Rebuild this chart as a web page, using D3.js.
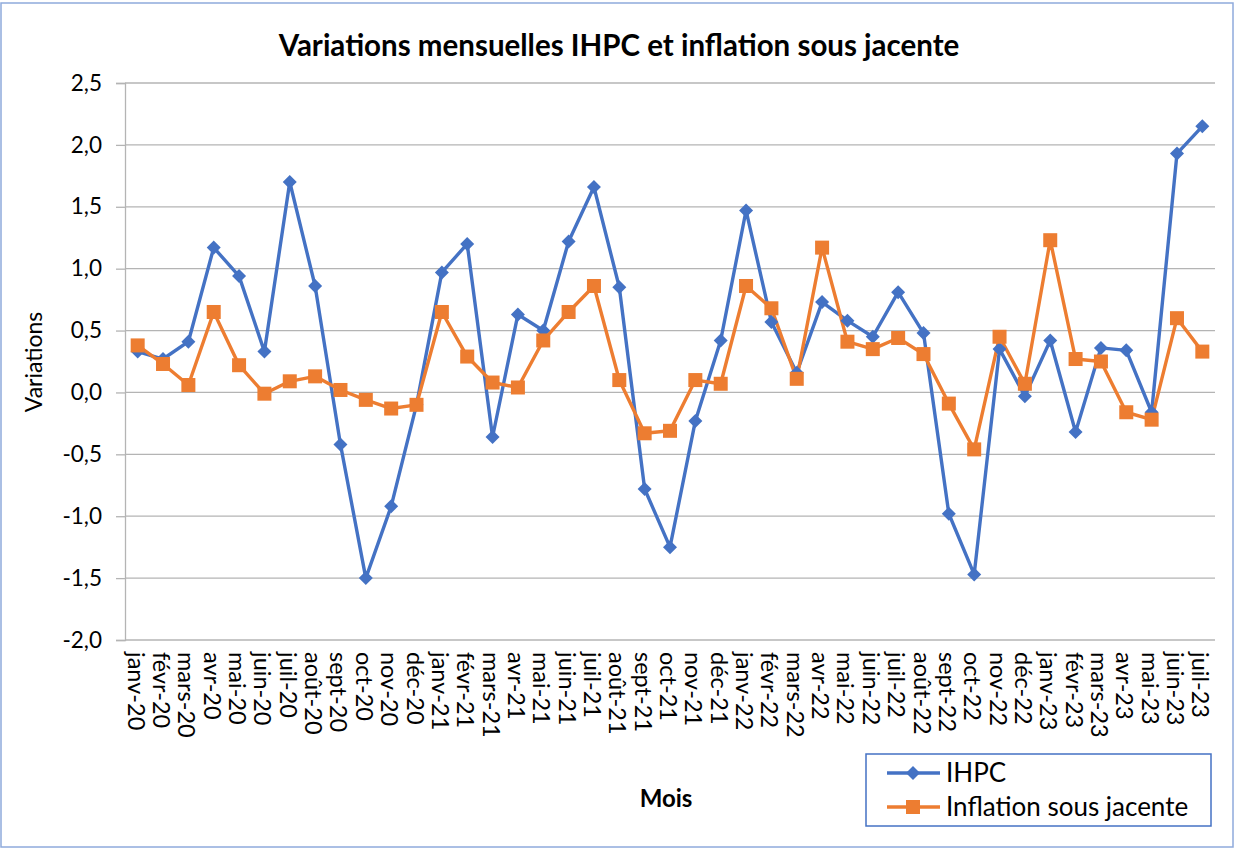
<!DOCTYPE html>
<html>
<head>
<meta charset="utf-8">
<script src="https://cdn.jsdelivr.net/npm/d3@7"></script>
<style>
  html, body { margin: 0; padding: 0; background: #fff; }
  svg { display: block; }
  text { font-family: Lato, "Open Sans", sans-serif; fill: #000; }
</style>
</head>
<body>
<svg id="chart" width="1235" height="849"></svg>
<script>
const categories = ["janv-20","févr-20","mars-20","avr-20","mai-20","juin-20","juil-20","août-20","sept-20","oct-20","nov-20","déc-20",
  "janv-21","févr-21","mars-21","avr-21","mai-21","juin-21","juil-21","août-21","sept-21","oct-21","nov-21","déc-21",
  "janv-22","févr-22","mars-22","avr-22","mai-22","juin-22","juil-22","août-22","sept-22","oct-22","nov-22","déc-22",
  "janv-23","févr-23","mars-23","avr-23","mai-23","juin-23","juil-23"];
const ihpc = [0.33,0.27,0.41,1.17,0.94,0.33,1.70,0.86,-0.42,-1.50,-0.92,-0.10,
  0.97,1.20,-0.36,0.63,0.50,1.22,1.66,0.85,-0.78,-1.25,-0.23,0.42,
  1.47,0.57,0.16,0.73,0.58,0.45,0.81,0.48,-0.98,-1.47,0.35,-0.03,
  0.42,-0.32,0.36,0.34,-0.16,1.93,2.15];
const inflationSJ = [0.38,0.23,0.06,0.65,0.22,-0.01,0.09,0.13,0.02,-0.06,-0.13,-0.10,
  0.65,0.29,0.08,0.04,0.42,0.65,0.86,0.10,-0.33,-0.31,0.10,0.07,
  0.86,0.68,0.11,1.17,0.41,0.35,0.44,0.31,-0.09,-0.46,0.45,0.07,
  1.23,0.27,0.25,-0.16,-0.22,0.60,0.33];
const yTicks = [-2.0,-1.5,-1.0,-0.5,0.0,0.5,1.0,1.5,2.0,2.5];
const seriesNames = ["IHPC", "Inflation sous jacente"];
const colors = ["#4472C4", "#ED7D31"];

const svg = d3.select("#chart");
const W = 1235, H = 849;
const plot = {left: 125, right: 1215, top: 83, bottom: 640};
const FONT = "Lato, 'Open Sans', sans-serif";

// outer border
svg.append("rect").attr("x", 1).attr("y", 3).attr("width", W - 3).attr("height", H - 5)
  .attr("fill", "#fff").attr("stroke", "#8FAADC").attr("stroke-width", 1.5);

const x = d3.scalePoint().domain(categories).range([plot.left, plot.right]).padding(0.5);
const y = d3.scaleLinear().domain([-2.0, 2.5]).range([plot.bottom, plot.top]);
const fmt = v => d3.format(".1f")(v).replace(".", ",").replace("−", "-");

// gridlines
svg.append("g").selectAll("line").data(yTicks).join("line")
  .attr("x1", plot.left).attr("x2", plot.right)
  .attr("y1", d => y(d)).attr("y2", d => y(d))
  .attr("stroke", "#B4B4B4").attr("stroke-width", 1.3);

// y axis
const yAxis = svg.append("g").attr("transform", `translate(${plot.left},0)`)
  .call(d3.axisLeft(y).tickValues(yTicks).tickFormat(fmt).tickSize(9).tickPadding(14));
yAxis.select(".domain").attr("stroke", "#B4B4B4").attr("stroke-width", 1.3);
yAxis.selectAll(".tick line").attr("stroke", "#B4B4B4").attr("stroke-width", 1.3);
yAxis.selectAll("text").style("font-size", "22.5px").style("font-family", FONT).attr("fill", "#000");

// x axis
const xAxis = svg.append("g").attr("transform", `translate(0,${plot.bottom})`)
  .call(d3.axisBottom(x).tickSize(0).tickPadding(0));
xAxis.select(".domain").remove();
xAxis.selectAll("text")
  .style("font-size", "23.5px").style("font-family", FONT).attr("fill", "#000")
  .attr("text-anchor", "start")
  .attr("transform", "rotate(90)")
  .attr("x", 12).attr("y", 2).attr("dy", "0.36em");

// lines
const line = d3.line().x((d, i) => x(categories[i])).y(d => y(d));
const seriesData = [ihpc, inflationSJ];
seriesData.forEach((vals, si) => {
  svg.append("path").datum(vals).attr("d", line)
    .attr("fill", "none").attr("stroke", colors[si]).attr("stroke-width", 3.4)
    .attr("stroke-linejoin", "round");
});
// markers: diamonds for IHPC, squares for inflation
const diamond = d3.symbol().type(d3.symbolDiamond2).size(125);
svg.append("g").selectAll("path").data(ihpc).join("path")
  .attr("d", diamond)
  .attr("transform", (d, i) => `translate(${x(categories[i])},${y(d)})`)
  .attr("fill", colors[0]);
svg.append("g").selectAll("rect").data(inflationSJ).join("rect")
  .attr("x", (d, i) => x(categories[i]) - 7).attr("y", d => y(d) - 7)
  .attr("width", 14).attr("height", 14)
  .attr("fill", colors[1]);

// title
svg.append("text").attr("x", 619).attr("y", 56).attr("text-anchor", "middle")
  .style("font-size", "29.5px").style("font-weight", "bold")
  .text("Variations mensuelles IHPC et inflation sous jacente");

// axis titles
svg.append("text").attr("transform", "translate(42,362) rotate(-90)").attr("text-anchor", "middle")
  .style("font-size", "23px").text("Variations");
svg.append("text").attr("x", 666).attr("y", 807).attr("text-anchor", "middle")
  .style("font-size", "24px").style("font-weight", "bold").text("Mois");

// legend
const lg = svg.append("g");
lg.append("rect").attr("x", 866).attr("y", 754).attr("width", 345).attr("height", 72)
  .attr("fill", "#fff").attr("stroke", "#4472C4").attr("stroke-width", 1.5);
const legRows = [773, 807];
seriesNames.forEach((name, i) => {
  const yy = legRows[i];
  lg.append("line").attr("x1", 887).attr("x2", 940).attr("y1", yy).attr("y2", yy)
    .attr("stroke", colors[i]).attr("stroke-width", 3.4);
  if (i === 0) {
    lg.append("path").attr("d", diamond).attr("transform", `translate(913,${yy})`).attr("fill", colors[0]);
  } else {
    lg.append("rect").attr("x", 906).attr("y", yy - 7).attr("width", 14).attr("height", 14).attr("fill", colors[1]);
  }
  lg.append("text").attr("x", 946).attr("y", yy).attr("dy", "0.36em")
    .style("font-size", "26px").text(name);
});
</script>
</body>
</html>
